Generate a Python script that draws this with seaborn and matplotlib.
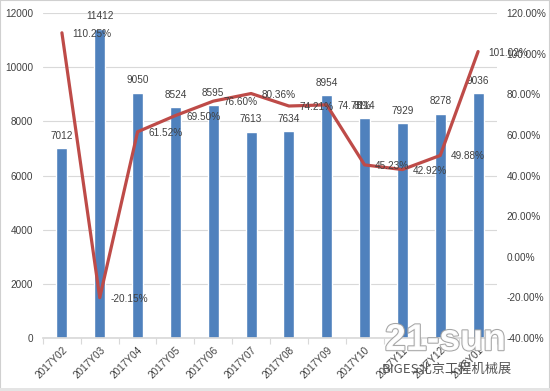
import matplotlib
matplotlib.use("Agg")
import matplotlib.pyplot as plt
import matplotlib.patheffects as pe
import numpy as np
import pandas as pd
import seaborn as sns
from matplotlib.ticker import FuncFormatter, FixedLocator

months = ["2017Y02", "2017Y03", "2017Y04", "2017Y05", "2017Y06", "2017Y07",
          "2017Y08", "2017Y09", "2017Y10", "2017Y11", "2017Y12", "2018Y01"]
sales = [7012, 11412, 9050, 8524, 8595, 7613, 7634, 8954, 8114, 7929, 8278, 9036]
growth = [1.1025, -0.2015, 0.6152, 0.6950, 0.7660, 0.8036, 0.7421, 0.7478,
          0.4523, 0.4292, 0.4988, 1.0102]

BAR = "#4F81BD"
LINE = "#BE4B48"
TXT = "#404040"
FS = 7.2

sns.set_theme(style="white")
plt.rcParams["font.family"] = ["Liberation Sans", "DejaVu Sans", "Noto Sans CJK SC"]

df = pd.DataFrame({"month": months, "sales": sales, "growth": growth})

fig = plt.figure(figsize=(5.5, 3.91), dpi=100)
ax = fig.add_axes([43 / 550, 1 - 338 / 391, 454 / 550, 325 / 391])

sns.barplot(data=df, x="month", y="sales", color=BAR, width=0.29,
            saturation=1, ax=ax, zorder=2)
ax.set_ylim(0, 12000)
ax.set_yticks(range(0, 12001, 2000))
ax.set_xlim(-0.5, len(months) - 0.5)
ax.grid(axis="y", color="#D9D9D9", linewidth=0.8, zorder=0)
ax.set_axisbelow(True)
ax.set_xlabel("")
ax.set_ylabel("")
for s in ["top", "left", "right"]:
    ax.spines[s].set_visible(False)
ax.spines["bottom"].set_color("#D9D9D9")
ax.tick_params(axis="y", length=0, labelsize=FS, labelcolor=TXT, pad=7)
ax.tick_params(axis="x", which="major", length=0, labelsize=FS, labelcolor=TXT, pad=5)
ax.xaxis.set_minor_locator(FixedLocator(np.arange(-0.5, len(months), 1.0)))
ax.tick_params(axis="x", which="minor", bottom=True, length=4, color="#D9D9D9", width=0.8)
plt.setp(ax.get_xticklabels(), rotation=45, ha="right", rotation_mode="anchor")

for i, v in enumerate(sales):
    ax.text(i, v + 280, str(v), ha="center", va="bottom", fontsize=FS, color=TXT, zorder=5)

ax2 = ax.twinx()
sns.lineplot(x=np.arange(len(months)), y=growth, color=LINE, linewidth=2.3, ax=ax2, zorder=3)
ax2.set_ylim(-0.4, 1.2)
ax2.set_yticks(np.arange(-0.4, 1.21, 0.2))
ax2.yaxis.set_major_formatter(FuncFormatter(lambda v, p: f"{v * 100:.2f}%"))
ax2.tick_params(axis="y", length=0, labelsize=FS, labelcolor=TXT, pad=7)
ax2.grid(False)
for s in ["top", "left", "right", "bottom"]:
    ax2.spines[s].set_visible(False)
ax2.set_xlim(-0.5, len(months) - 0.5)

for i, g in enumerate(growth):
    ax2.text(i + 0.28, g - 0.005, f"{g * 100:.2f}%", ha="left", va="center", fontsize=FS,
             color=TXT, zorder=5)

# watermark
fig.text(0.81, 0.13, "21-sun", fontsize=27, fontweight="bold", color="white",
         ha="center", va="center", alpha=0.95,
         path_effects=[pe.withStroke(linewidth=1.5, foreground="#A0A0A0")])
fig.text(0.93, 0.055, "BIGES北京工程机械展", fontsize=9.5, color="#555555",
         ha="right", va="center", family=["Noto Sans CJK SC", "DejaVu Sans"])

fig.patches.append(plt.Rectangle((0, 0), 1, 1, transform=fig.transFigure,
                                 fill=False, edgecolor="#D0D0D0", linewidth=1.5))
fig.patches.append(plt.Rectangle((0, 0), 1, 3 / 391, transform=fig.transFigure,
                                 facecolor="#E4E4E4", edgecolor="none"))

fig.savefig("out.png", dpi=100)
